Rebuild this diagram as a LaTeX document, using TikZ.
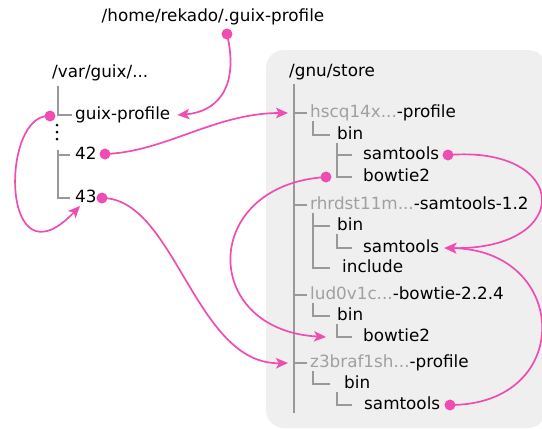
\documentclass[tikz,border=0pt]{standalone}
\usepackage{fontspec}
\setmainfont{DejaVu Sans}
\usepackage[HTML]{xcolor}
\usetikzlibrary{arrows.meta}

\definecolor{linkpink}{HTML}{F04DB2}
\definecolor{treegray}{HTML}{999999}
\definecolor{hashgray}{HTML}{A0A0A0}
\definecolor{storebg}{HTML}{EFEFEF}

\begin{document}
\begin{tikzpicture}[
    x=1pt, y=-1pt,
    >={Stealth[length=12pt, width=10.5pt, inset=3pt]},
    every node/.style={font=\fontsize{16.8}{20}\selectfont},
    entry/.style={anchor=west, inner sep=0pt, text height=12pt, text depth=3.5pt},
    tree/.style={draw=treegray, line width=2.9pt},
    link/.style={draw=linkpink, line width=1.7pt, ->},
    dot/.style={circle, fill=linkpink, minimum size=11pt, inner sep=0pt}
]
    \useasboundingbox (0,0) rectangle (542,429);

    % store background
    \fill[storebg, rounded corners=18pt] (266,50) rectangle (546,428);

    % Define nodes
    \node (home) at (213,17) {/home/rekado/.guix-profile};
    \node[entry] (var) at (52,73) {/var/guix/...};
    \node[entry] (gprof) at (75,115) {guix-profile};
    \node[entry] (n42) at (75,155) {42};
    \node[entry] (n43) at (75,198) {43};

    \node[entry] (store) at (289,72) {/gnu/store};
    \node[entry] (hscq) at (310,113) {\textcolor{hashgray}{hscq14x...}-profile};
    \node[entry] (bin1) at (337,135) {bin};
    \node[entry] (sam1) at (363,155) {samtools};
    \node[entry] (bow1) at (363,177) {bowtie2};
    \node[entry] (rhrd) at (310,205) {\textcolor{hashgray}{rhrdst11m...}-samtools-1.2};
    \node[entry] (bin2) at (337,226) {bin};
    \node[entry] (sam2) at (363,248) {samtools};
    \node[entry] (incl) at (342,268) {include};
    \node[entry] (lud) at (310,295) {\textcolor{hashgray}{lud0v1c...}-bowtie-2.2.4};
    \node[entry] (bin3) at (337,316) {bin};
    \node[entry] (bow2) at (363,337) {bowtie2};
    \node[entry] (z3) at (310,363) {\textcolor{hashgray}{z3braf1sh...}-profile};
    \node[entry] (bin4) at (344,384) {bin};
    \node[entry] (sam3) at (364,405) {samtools};

    \coordinate (vartop) at (58,86);
    \coordinate (varmid) at (58,150);
    \coordinate (storetop) at (294,84);
    \coordinate (storebot) at (294,413);
    \coordinate (hscqbr) at (storetop |- hscq.west);
    \coordinate (z3br) at (storetop |- z3.west);

    % Draw tree lines
    \draw[tree] (vartop) |- ([xshift=-3pt]gprof.west);
    \draw[tree] (varmid) |- ([xshift=-5pt]n42.west);
    \draw[tree] (varmid) |- ([xshift=-5pt]n43.west);
    \fill (57,125) circle (1.5) (57,132) circle (1.5) (57,139) circle (1.5);

    \draw[tree] (storetop) -- (storebot);
    \foreach \n in {hscq, rhrd, lud, z3}
        \draw[tree] (storetop |- \n.west) -- ([xshift=-3pt]\n.west);
    \draw[tree] ([xshift=3pt]hscq.south west) |- ([xshift=-7pt]bin1.west);
    \draw[tree] (bin1.south west) |- ([xshift=-11pt]sam1.west);
    \draw[tree] (bin1.south west) |- ([xshift=-11pt]bow1.west);
    \draw[tree] ([xshift=3pt]rhrd.south west) |- ([xshift=-7pt]bin2.west);
    \draw[tree] ([xshift=3pt]rhrd.south west) |- ([xshift=-12pt]incl.west);
    \draw[tree] (bin2.south west) |- ([xshift=-11pt]sam2.west);
    \draw[tree] ([xshift=3pt]lud.south west) |- ([xshift=-7pt]bin3.west);
    \draw[tree] (bin3.south west) |- ([xshift=-11pt]bow2.west);
    \draw[tree] ([xshift=3pt]z3.south west) |- ([xshift=-14pt]bin4.west);
    \draw[tree] ([xshift=-7pt]bin4.south west) |- ([xshift=-12pt]sam3.west);

    % Draw arrows
    \node[dot] (homedot) at (227,34) {};
    \node[dot] (gdot) at (50,116) {};
    \node[dot] (dot42) at (105,154) {};
    \node[dot] (dot43) at (102,198) {};
    \node[dot] (bowdot) at (326,177) {};
    \node[dot] (samdot1) at (448,155) {};
    \node[dot] (samdot3) at (450,405) {};

    \draw[link] (homedot.center) .. controls (240,90) and (215,112) .. ([xshift=7pt]gprof.east);
    \draw[link] (dot42.center) .. controls (165,152) and (215,113) .. ([xshift=-6pt]hscqbr);
    \draw[link] (gdot.center) .. controls (0,112) and (0,290) .. ([xshift=5pt]n43.south west);
    \draw[link] (dot43.center) .. controls (175,198) and (195,365) .. ([xshift=-6pt]z3br);
    \draw[link] (bowdot.center) .. controls (200,185) and (200,330) .. ([xshift=-11pt]bin3.south west |- bow2.west);
    \draw[link] (samdot1.center) .. controls (570,145) and (575,250) .. ([xshift=5pt]sam2.east);
    \draw[link] (samdot3.center) .. controls (575,405) and (570,250) .. ([xshift=5pt]sam2.east);
\end{tikzpicture}
\end{document}
